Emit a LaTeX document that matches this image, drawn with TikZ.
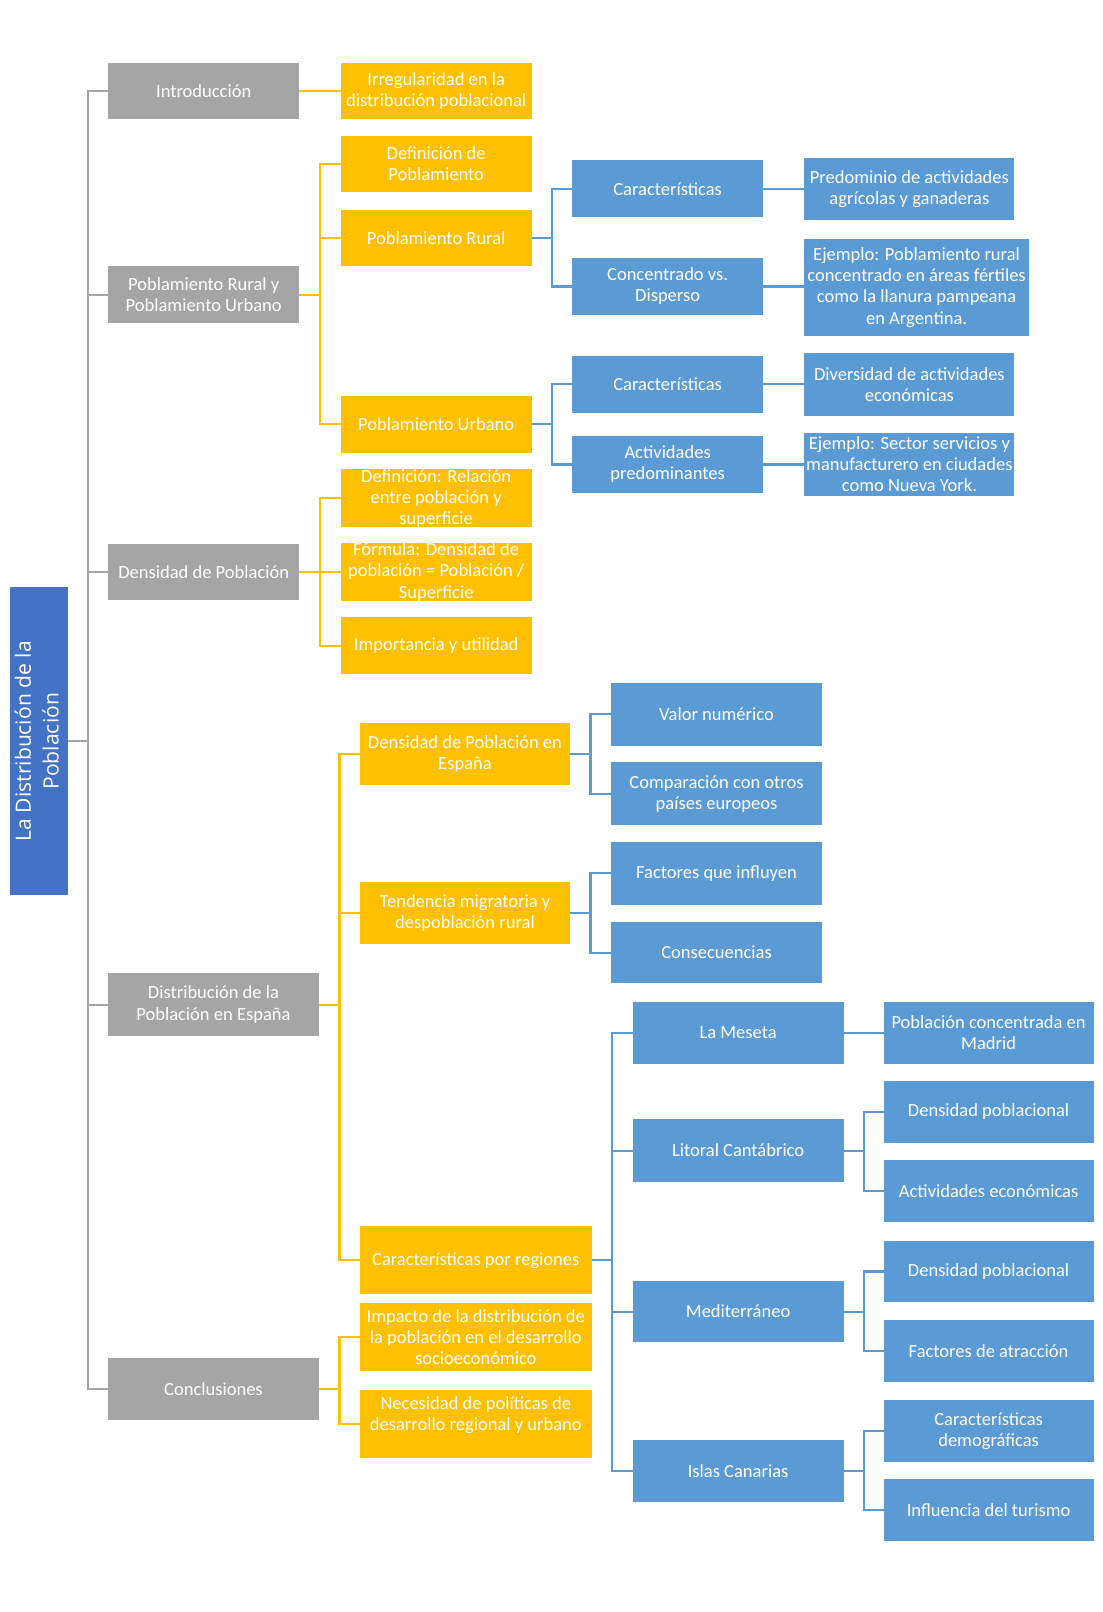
\documentclass[tikz,border=0pt]{standalone}
\usepackage{fontspec}
\setmainfont{Carlito}
\newfontfamily\rootfont{Open Sans}
\definecolor{cgray}{HTML}{A5A5A5}
\definecolor{corange}{HTML}{FFC000}
\definecolor{cblue}{HTML}{5B9BD5}
\definecolor{croot}{HTML}{4472C4}
\newcommand\mybox[7]{\node[#6, minimum width={#4-#2}, minimum height={#5-#3}] (#1) at ({(#2+#4)/2},{(#3+#5)/2}) {#7};}
\begin{document}
\begin{tikzpicture}[x=1pt,y=-1pt,
  box/.style={inner sep=0pt, outer sep=0pt, align=center, text=white, font=\fontsize{18}{20.5}\selectfont},
  gbox/.style={box, fill=cgray},
  obox/.style={box, fill=corange},
  bbox/.style={box, fill=cblue},
  rbox/.style={box, fill=croot, font=\rootfont\fontsize{20.5}{27}\selectfont},
  gl/.style={draw=cgray, line width=2pt},
  ol/.style={draw=corange, line width=2pt},
  bl/.style={draw=cblue, line width=2pt}]
\useasboundingbox (0,0) rectangle (1072,1567);
% root
\mybox{root}{10}{571}{66}{870}{rbox}{\rotatebox{90}{\begin{tabular}{@{}c@{}}La Distribución de la\\Población\end{tabular}}}
% level 1
\mybox{intro}{105}{61}{291}{116}{gbox}{Introducción}
\mybox{prpu}{105}{259}{291}{314}{gbox}{Poblamiento Rural y\\Poblamiento Urbano}
\mybox{dens}{105}{529}{291}{583}{gbox}{Densidad de Población}
\mybox{dist}{105}{946}{310}{1007}{gbox}{Distribución de la\\Población en España}
\mybox{concl}{105}{1320}{310}{1380}{gbox}{Conclusiones}
% level 2
\mybox{irreg}{331}{61}{517}{116}{obox}{Irregularidad en la\\distribución poblacional}
\mybox{defp}{331}{132}{517}{187}{obox}{Definición de\\Poblamiento}
\mybox{prur}{331}{204}{517}{259}{obox}{Poblamiento Rural}
\mybox{purb}{331}{385}{517}{440}{obox}{Poblamiento Urbano}
\mybox{defr}{331}{457}{517}{512}{obox}{Definición: Relación\\entre población y\\superficie}
\mybox{form}{331}{529}{517}{583}{obox}{Fórmula: Densidad de\\población = Población /\\Superficie}
\mybox{impu}{331}{600}{517}{655}{obox}{Importancia y utilidad}
\mybox{desp}{350}{703}{554}{763}{obox}{Densidad de Población en\\España}
\mybox{tend}{350}{857}{554}{918}{obox}{Tendencia migratoria y\\despoblación rural}
\mybox{creg}{350}{1192}{575}{1258}{obox}{Características por regiones}
\mybox{impa}{350}{1267}{575}{1333}{obox}{Impacto de la distribución de\\la población en el desarrollo\\socioeconómico}
\mybox{nece}{350}{1351}{575}{1417}{obox}{Necesidad de políticas de\\desarrollo regional y urbano\\\mbox{}}
% level 3 (poblamiento)
\mybox{car1}{556}{156}{742}{211}{bbox}{Características}
\mybox{conc}{556}{251}{742}{306}{bbox}{Concentrado vs.\\Disperso}
\mybox{car2}{556}{346}{742}{401}{bbox}{Características}
\mybox{actp}{556}{424}{742}{479}{bbox}{Actividades\\predominantes}
\mybox{pred}{782}{154}{986}{214}{bbox}{Predominio de actividades\\agrícolas y ganaderas}
\mybox{ejr}{782}{232}{1000}{327}{bbox}{Ejemplo: Poblamiento rural\\concentrado en áreas fértiles\\como la llanura pampeana\\en Argentina.}
\mybox{dive}{782}{343}{986}{404}{bbox}{Diversidad de actividades\\económicas}
\mybox{ejs}{782}{421}{986}{482}{bbox}{Ejemplo: Sector servicios y\\manufacturero en ciudades\\como Nueva York.}
% level 3 (españa)
\mybox{valn}{594}{664}{799}{725}{bbox}{Valor numérico}
\mybox{comp}{594}{741}{799}{802}{bbox}{Comparación con otros\\países europeos}
\mybox{fact}{594}{818}{799}{880}{bbox}{Factores que influyen}
\mybox{cons}{594}{896}{799}{956}{bbox}{Consecuencias}
% regions
\mybox{mes}{615}{974}{820}{1034}{bbox}{La Meseta}
\mybox{lit}{615}{1088}{820}{1149}{bbox}{Litoral Cantábrico}
\mybox{med}{615}{1245}{820}{1305}{bbox}{Mediterráneo}
\mybox{isl}{615}{1400}{820}{1460}{bbox}{Islas Canarias}
\mybox{madr}{859}{974}{1063}{1034}{bbox}{Población concentrada en\\Madrid}
\mybox{den1}{859}{1051}{1063}{1111}{bbox}{Densidad poblacional}
\mybox{acte}{859}{1128}{1063}{1188}{bbox}{Actividades económicas}
\mybox{den2}{859}{1206}{1063}{1266}{bbox}{Densidad poblacional}
\mybox{fatr}{859}{1283}{1063}{1343}{bbox}{Factores de atracción}
\mybox{card}{859}{1361}{1063}{1421}{bbox}{Características\\demográficas}
\mybox{tur}{859}{1438}{1063}{1498}{bbox}{Influencia del turismo}
% connectors: root
\foreach \c in {intro,prpu,dens,dist,concl}
  \draw[gl] (root.east) -- ++(20,0) |- (\c.west);
% orange
\draw[ol] (intro.east) -- (intro.east -| irreg.west);
\foreach \c in {defp,prur,purb}
  \draw[ol] (prpu.east) -- ++(20.5,0) |- (\c.west);
\foreach \c in {defr,form,impu}
  \draw[ol] (dens.east) -- ++(20.5,0) |- (\c.west);
\foreach \c in {desp,tend,creg}
  \draw[ol] (dist.east) -- ++(20,0) |- (\c.west);
\foreach \c in {impa,nece}
  \draw[ol] (concl.east) -- ++(20,0) |- (\c.west);
% blue
\foreach \c in {car1,conc}
  \draw[bl] (prur.east) -- ++(20,0) |- (\c.west);
\foreach \c in {car2,actp}
  \draw[bl] (purb.east) -- ++(20,0) |- (\c.west);
\draw[bl] (car1.east) -- (car1.east -| pred.west);
\draw[bl] (conc.east) -- (conc.east -| ejr.west);
\draw[bl] (car2.east) -- (car2.east -| dive.west);
\draw[bl] (actp.east) -- (actp.east -| ejs.west);
\foreach \c in {valn,comp}
  \draw[bl] (desp.east) -- ++(20,0) |- (\c.west);
\foreach \c in {fact,cons}
  \draw[bl] (tend.east) -- ++(20,0) |- (\c.west);
\foreach \c in {mes,lit,med,isl}
  \draw[bl] (creg.east) -- ++(20,0) |- (\c.west);
\draw[bl] (mes.east) -- (mes.east -| madr.west);
\foreach \c in {den1,acte}
  \draw[bl] (lit.east) -- ++(19.5,0) |- (\c.west);
\foreach \c in {den2,fatr}
  \draw[bl] (med.east) -- ++(19.5,0) |- (\c.west);
\foreach \c in {card,tur}
  \draw[bl] (isl.east) -- ++(19.5,0) |- (\c.west);
\end{tikzpicture}
\end{document}
